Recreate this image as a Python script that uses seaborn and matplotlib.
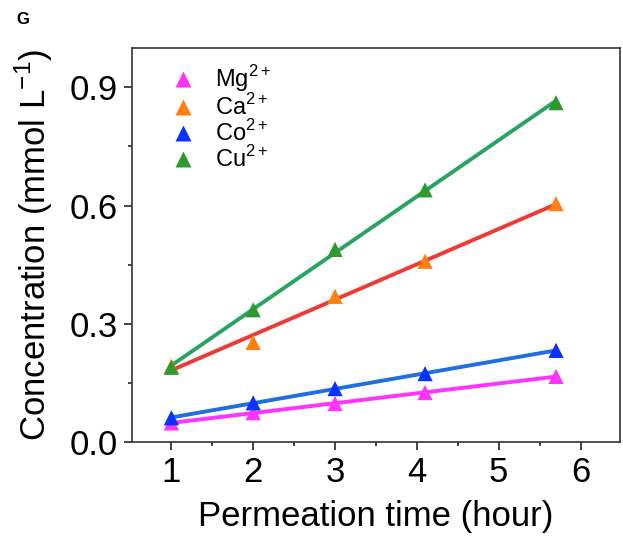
import numpy as np
import pandas as pd
import matplotlib
matplotlib.use("Agg")
import matplotlib.pyplot as plt
import seaborn as sns
from matplotlib.ticker import MultipleLocator, FormatStrFormatter

# permeation data
time_h = [1.0, 2.0, 3.0, 4.1, 5.7]
ions = ["Mg", "Ca", "Co", "Cu"]
mg_conc = [0.049, 0.075, 0.098, 0.126, 0.167]
ca_conc = [0.193, 0.253, 0.370, 0.459, 0.605]
co_conc = [0.062, 0.100, 0.136, 0.174, 0.233]
cu_conc = [0.190, 0.336, 0.489, 0.640, 0.861]

marker_colors = {"Mg": "#ff33ff", "Ca": "#ff8010", "Co": "#0a32ff", "Cu": "#2e9a2e"}
line_colors = {"Mg": "#ff33ff", "Ca": "#ee3a34", "Co": "#1f6fe0", "Cu": "#27a462"}

df = pd.DataFrame({
    "time": time_h * 4,
    "conc": mg_conc + ca_conc + co_conc + cu_conc,
    "ion": [ion for ion in ions for _ in time_h],
})
df["label"] = df["ion"] + r"$^{\mathregular{2+}}$"

sns.set_theme(style="ticks")
plt.rcParams["font.family"] = ["Liberation Sans", "DejaVu Sans"]
plt.rcParams["mathtext.fontset"] = "custom"
plt.rcParams["mathtext.rm"] = "Liberation Sans"
plt.rcParams["text.color"] = "black"
plt.rcParams["axes.labelcolor"] = "black"

fig = plt.figure(figsize=(6.23, 5.38), dpi=100)
ax = fig.add_axes([0.212, 0.178, 0.783, 0.733])

# linear fits
for ion in ions:
    sub = df[df["ion"] == ion]
    sns.regplot(data=sub, x="time", y="conc", scatter=False, ci=None,
                color=line_colors[ion], line_kws={"lw": 2.8, "zorder": 2}, ax=ax)

sns.scatterplot(data=df, x="time", y="conc", hue="label", marker="^", s=120,
                palette=[marker_colors[i] for i in ions], edgecolor="none",
                zorder=3, ax=ax)

ax.set_xlim(0.52, 6.48)
ax.set_ylim(0, 1.0)
ax.set_xticks([1, 2, 3, 4, 5, 6])
ax.set_yticks([0.0, 0.3, 0.6, 0.9])
ax.yaxis.set_major_formatter(FormatStrFormatter("%.1f"))
ax.xaxis.set_minor_locator(MultipleLocator(0.5))
ax.yaxis.set_minor_locator(MultipleLocator(0.15))
ax.tick_params(axis="both", which="major", direction="out", length=6, width=1.2,
               labelsize=25, pad=4, colors="#222222", labelcolor="black")
ax.tick_params(axis="both", which="minor", direction="out", length=3, width=1.2,
               colors="#222222")
for side in ["top", "right", "left", "bottom"]:
    ax.spines[side].set_visible(True)
    ax.spines[side].set_linewidth(1.2)
    ax.spines[side].set_color("#333333")

ax.set_xlabel("Permeation time (hour)", fontsize=25, labelpad=8)
ax.set_ylabel(r"Concentration (mmol L$^{\mathregular{-1}}$)", fontsize=25, labelpad=11)

leg = ax.legend(loc="upper left", bbox_to_anchor=(0.012, 1.015), frameon=False,
                fontsize=17, handletextpad=0.35, labelspacing=0.0, markerscale=1.0)

fig.text(0.026, 0.963, "G", fontsize=12, fontweight="bold", ha="left", va="center")

fig.savefig("out.png", dpi=100)
